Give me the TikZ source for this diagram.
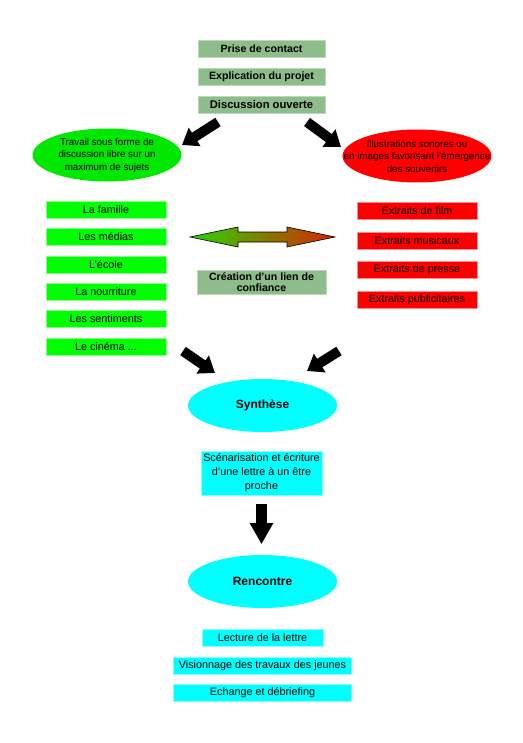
\documentclass[tikz,border=0pt]{standalone}
\usepackage{fontspec}
\setmainfont{Liberation Sans}
\usetikzlibrary{arrows.meta,shapes.geometric,positioning}

\definecolor{sage}{RGB}{143,188,139}
\definecolor{lime}{RGB}{0,255,0}
\definecolor{limeoval}{RGB}{0,232,0}
\definecolor{brightred}{RGB}{255,0,0}
\definecolor{aqua}{RGB}{0,255,255}

\begin{document}
\begin{tikzpicture}[x=1pt, y=-1pt,
  stage/.style={draw=sage!60!white, fill=sage, align=center, inner sep=1pt,
    font=\fontsize{10.6}{9.2}\selectfont\bfseries, minimum width=127pt,
    minimum height=17pt},
  theme/.style={draw=lime!45!white, fill=lime, inner sep=1pt,
    font=\fontsize{10.8}{12}\selectfont, minimum width=120pt,
    minimum height=17pt},
  media/.style={draw=brightred!45!white, fill=brightred, inner sep=1pt,
    font=\fontsize{10.8}{12}\selectfont, minimum width=120pt,
    minimum height=17pt},
  step2/.style={draw=aqua!45!white, fill=aqua, align=center, inner sep=1pt,
    font=\fontsize{10.8}{14}\selectfont, minimum height=17pt},
  oval/.style={ellipse, align=center, inner xsep=-24pt, inner ysep=-10pt,
    minimum width=149pt, minimum height=53pt,
    font=\fontsize{9.8}{12.5}\selectfont},
  bigarrow/.style={line width=10pt, -{Triangle[length=15pt, width=21pt]}}
]
  \useasboundingbox (0,0) rectangle (522,743);

  \node[stage] (contact) at (261.5,49) {Prise de contact};
  \node[stage, below=10.5pt of contact] (projet) {Explication du projet};
  \node[stage, below=10.5pt of projet, font=\fontsize{11.2}{9}\selectfont\bfseries]
    (discussion) {Discussion ouverte};

  \node[oval, fill=limeoval] (travail) at (107,155)
    {Travail sous forme de\\discussion libre sur un\\maximum de sujets};
  \node[oval, fill=brightred] (illustr) at (417,156)
    {Illustrations sonores ou\\en images favorisant l'émergence\\des souvenirs};

  \coordinate (a1s) at (218,122);
  \coordinate (a1e) at (182,145);
  \coordinate (a2s) at (307,122);
  \coordinate (a2e) at (341,147);
  \draw[bigarrow] (a1s) -- (a1e);
  \draw[bigarrow] (a2s) -- (a2e);

  \node[theme] (famille) at (106,209.5) {La famille};
  \node[theme, below=10pt of famille] (medias) {Les médias};
  \node[theme, below=10pt of medias] (ecole) {L'école};
  \node[theme, below=10pt of ecole] (nourriture) {La nourriture};
  \node[theme, below=10pt of nourriture] (sentiments) {Les sentiments};
  \node[theme, below=10pt of sentiments] (cinema) {Le cinéma ...};

  \node[media] (film) at (417,210.5) {Extraits de film};
  \node[media, below=12.3pt of film] (musique) {Extraits musicaux};
  \node[media, below=12.3pt of musique] (presse) {Extraits de presse};
  \node[media, below=12.3pt of presse] (pub) {Extraits publicitaires};

  \coordinate (lienL) at (190,237);
  \coordinate (lienR) at (335,237);
  \shade[left color={rgb,255:red,40;green,215;blue,0},
    right color={rgb,255:red,218;green,35;blue,0}, draw=black, line width=0.6pt]
    (lienL) -- ++(48,-10) -- ++(0,5) -- ++(49,0) -- ++(0,-5) -- (lienR)
    -- ++(-48,10) -- ++(0,-5) -- ++(-49,0) -- ++(0,5) -- cycle;
  \node[stage, minimum width=129pt, minimum height=24pt,
    font=\fontsize{10.6}{10.4}\selectfont\bfseries] (lien) at (261.5,282)
    {Création d'un lien de\\confiance};

  \node[oval, fill=aqua, font=\fontsize{12}{13}\selectfont\bfseries]
    (synthese) at (262.5,405.5) {Synthèse};
  \coordinate (a3s) at (183,351);
  \coordinate (a3e) at (215,373);
  \coordinate (a4s) at (339,351);
  \coordinate (a4e) at (307,371);
  \draw[bigarrow] (a3s) -- (a3e);
  \draw[bigarrow] (a4s) -- (a4e);

  \node[step2, minimum width=121pt, minimum height=44pt] (lettre) at (261.5,473)
    {Scénarisation et écriture\\d'une lettre à un être\\proche};

  \node[oval, fill=aqua, font=\fontsize{12}{13}\selectfont\bfseries]
    (rencontre) at (262.5,581.5) {Rencontre};
  \draw[line width=11pt, -{Triangle[length=21pt, width=22pt]}]
    (lettre.south) ++(0,9) -- ++(0,40);

  \node[step2, minimum width=121pt] (lecture) at (262.5,638) {Lecture de la lettre};
  \node[step2, minimum width=178pt, below=10pt of lecture] (visionnage)
    {Visionnage des travaux des jeunes};
  \node[step2, minimum width=178pt, below=10pt of visionnage] (echange)
    {Echange et débriefing};
\end{tikzpicture}
\end{document}
